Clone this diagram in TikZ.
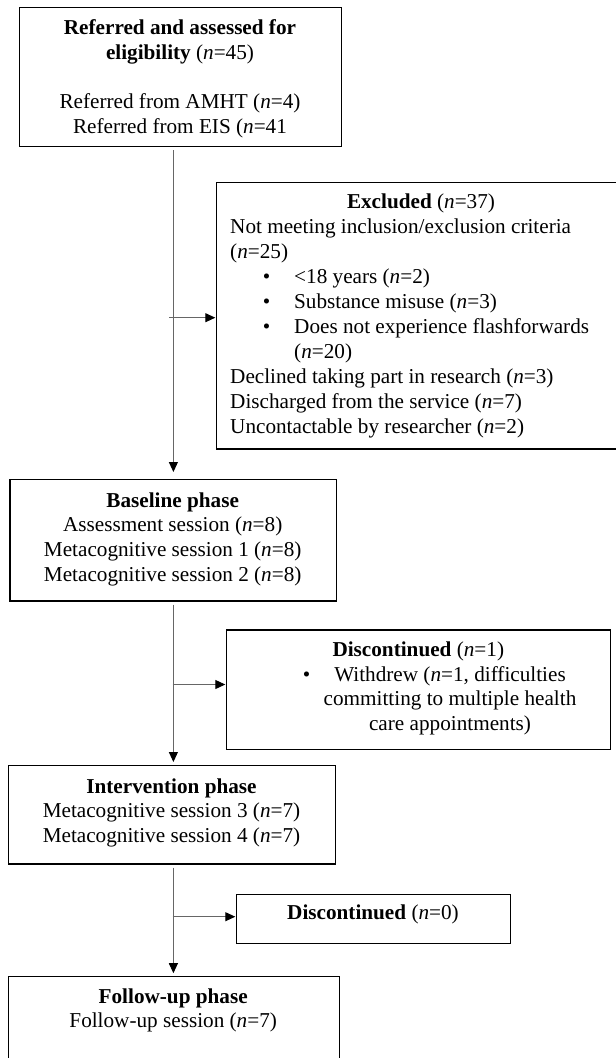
\documentclass[tikz,border=0pt]{standalone}
\usepackage{fontspec}
\setmainfont{Liberation Serif}
\usetikzlibrary{arrows.meta}
\begin{document}
\begin{tikzpicture}[x=1pt,y=-1pt,
  box/.style={draw=black,line width=1.4pt,inner sep=0pt,anchor=north west},
  txt/.style={inner sep=0pt,font=\fontsize{21.2}{24.6}\selectfont},
  txtx/.style={inner sep=0pt,font=\fontsize{21.2}{25}\selectfont},
  conn/.style={draw=black!60,line width=1pt},
  arr/.style={conn,-{Triangle[length=10pt,width=9pt,color=black]}}]
\useasboundingbox (0,0) rectangle (616,1058);
\fill[white] (0,0) rectangle (616,1058);
% boxes
\node[box,minimum width=322pt,minimum height=139pt] (refbox) at (19,7) {};
\node[box,minimum width=401pt,minimum height=266.6pt] (excl) at (216,181.7) {};
\node[box,minimum width=326.6pt,minimum height=121.3pt] (base) at (9.4,479) {};
\node[box,minimum width=384pt,minimum height=119.2pt] (disc1) at (226,629.3) {};
\node[box,minimum width=327.5pt,minimum height=98.3pt] (interv) at (7.5,765) {};
\node[box,minimum width=274pt,minimum height=49.3pt] (disc0) at (236,893.7) {};
\node[box,minimum width=331.5pt,minimum height=110pt] (follow) at (7.5,975.7) {};
% texts
\node[txt,align=center,anchor=north] (reftxt) at (180,16.5)
  {\rule{0pt}{18pt}\textbf{Referred and assessed for}\\
   \textbf{eligibility} (\textit{n}=45)\\[24.6pt]
   Referred from AMHT (\textit{n}=4)\\
   Referred from EIS (\textit{n}=41};
\node[txt,anchor=base] (excltitle) at (421,208) {\textbf{Excluded} (\textit{n}=37)};
\node[txtx,align=left,anchor=north west] (excltxt) at (230,215)
  {\rule{0pt}{18pt}Not meeting inclusion/exclusion criteria\\
   (\textit{n}=25)\\
   \makebox[64pt][l]{\hspace{32.7pt}\textbullet}<18 years (\textit{n}=2)\\
   \makebox[64pt][l]{\hspace{32.7pt}\textbullet}Substance misuse (\textit{n}=3)\\
   \makebox[64pt][l]{\hspace{32.7pt}\textbullet}Does not experience flashforwards\\
   \hspace*{64pt}(\textit{n}=20)\\
   Declined taking part in research (\textit{n}=3)\\
   Discharged from the service (\textit{n}=7)\\
   Uncontactable by researcher (\textit{n}=2)};
\node[txt,align=center,anchor=north] (basetxt) at (172.7,489)
  {\rule{0pt}{18pt}\textbf{Baseline phase}\\
   Assessment session (\textit{n}=8)\\
   Metacognitive session 1 (\textit{n}=8)\\
   Metacognitive session 2 (\textit{n}=8)};
\node[txt,anchor=base] (disc1title) at (418.3,656) {\textbf{Discontinued} (\textit{n}=1)};
\node[txt,align=center,anchor=north] (disc1txt) at (450,663)
  {\rule{0pt}{18pt}\llap{\textbullet\hspace{24pt}}Withdrew (\textit{n}=1, difficulties\\
   committing to multiple health\\
   care appointments)};
\node[txt,align=center,anchor=north] (intervtxt) at (171.5,775)
  {\rule{0pt}{18pt}\textbf{Intervention phase}\\
   Metacognitive session 3 (\textit{n}=7)\\
   Metacognitive session 4 (\textit{n}=7)};
\node[txt,anchor=base] (disc0txt) at (373,919.8) {\textbf{Discontinued} (\textit{n}=0)};
\node[txt,align=center,anchor=north] (followtxt) at (173.2,985)
  {\rule{0pt}{18pt}\textbf{Follow-up phase}\\
   Follow-up session (\textit{n}=7)};
% connectors
\draw[arr,shorten <=3pt,shorten >=7pt] (base.north |- refbox.south) -- (base.north);
\draw[arr,shorten <=3pt,shorten >=3pt] (base.south) -- (interv.north -| base.south);
\draw[arr,shorten <=3pt,shorten >=2.5pt] (interv.south -| base.south) -- (follow.north -| base.south);
\coordinate (j1) at (169,317.7);
\coordinate (j2) at (172.7,684.5);
\coordinate (j3) at (172.7,916.7);
\draw[arr,shorten >=0.7pt] (j1) -- (j1 -| excl.west);
\draw[arr,shorten >=0.7pt] (j2) -- (j2 -| disc1.west);
\draw[arr,shorten >=0.7pt] (j3) -- (j3 -| disc0.west);
\end{tikzpicture}
\end{document}
